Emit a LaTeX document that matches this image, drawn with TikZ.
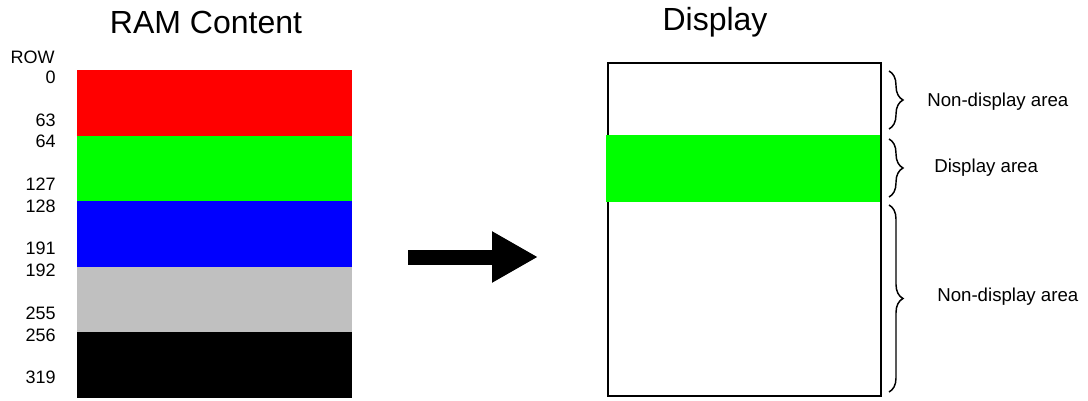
\documentclass[tikz,border=0pt]{standalone}
\usepackage{fontspec}
\setmainfont{Liberation Sans}
\usepackage{tikz}
\usetikzlibrary{arrows.meta, decorations.pathreplacing}
\definecolor{ram_red}{HTML}{FF0000}
\definecolor{ram_green}{HTML}{00FF00}
\definecolor{ram_blue}{HTML}{0000FF}
\definecolor{ram_gray}{HTML}{C0C0C0}
\definecolor{ram_black}{HTML}{000000}

\begin{document}
\begin{tikzpicture}[
    x=0.75pt, y=-0.75pt,
    title/.style={inner sep=0pt, font=\fontsize{24}{28}\selectfont},
    rowlabel/.style={anchor=east, inner sep=0pt, font=\fontsize{13.5}{16}\selectfont},
    arealabel/.style={anchor=west, inner sep=0pt, font=\fontsize{14}{16}\selectfont},
    bracket/.style={decorate, decoration={brace, amplitude=10.5pt}, line width=1.1pt}
]
\useasboundingbox (0,0) rectangle (1088,400);

% -------- Titles --------------------------------------------
\node[title] (ramtitle) at (206,22) {RAM Content};
\node[title] (disptitle) at (715,22) {Display};

% -------- RAM content: five bands of 64 rows ---------------
\node[rowlabel] (rowhead) at (55,57) {ROW};
\foreach \first/\last/\col [count=\i from 0] in
    {0/63/ram_red, 64/127/ram_green, 128/191/ram_blue,
     192/255/ram_gray, 256/319/ram_black} {
    \fill[\col] (77,{70+65.6*\i}) rectangle (352,{70+65.6*(\i+1)});
    \node[rowlabel] (row\first) at (56,{77+64.5*\i}) {\first};
    \node[rowlabel] (row\last) at (56,{120+64.3*\i}) {\last};
}

% -------- Big arrow RAM -> display --------------------------
\coordinate (arrowtail) at (408,257);
\coordinate (arrowtip) at (538,257);
\draw[line width=11.25pt, -{Triangle[length=34.5pt, width=36pt]}]
    (arrowtail) -- (arrowtip);

% -------- Display panel -------------------------------------
\draw[line width=1.5pt] (608,63) rectangle (881,396);
% only rows 64..127 are shown
\fill[ram_green] (606,135) rectangle (880,202);

% -------- Braces and area labels ----------------------------
\coordinate (topA) at (889,71);   \coordinate (topB) at (889,129);
\coordinate (midA) at (889,139);  \coordinate (midB) at (889,197);
\coordinate (lowA) at (889,205);  \coordinate (lowB) at (889,392);
\draw[bracket] (topA) -- (topB);
\draw[bracket] (midA) -- (midB);
\draw[bracket] (lowA) -- (lowB);
\node[arealabel] (toparea) at (927,102) {Non-display area};
\node[arealabel] (midarea) at (934,168) {Display area};
\node[arealabel] (lowarea) at (937,297) {Non-display area};

\end{tikzpicture}
\end{document}
